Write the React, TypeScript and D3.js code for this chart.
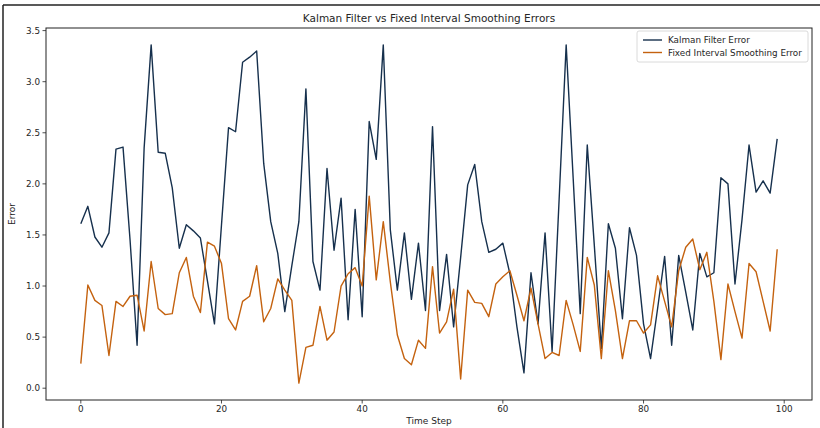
import React from "react";
import * as d3 from "d3";

// Time steps 0..99 and the per-step error of each estimator
const timeSteps: number[] = Array.from({ length: 100 }, (_, i) => i);

const kalmanError: number[] = [
  1.61, 1.78, 1.48, 1.38, 1.52, 2.34, 2.36, 1.45, 0.42, 2.35,
  3.36, 2.31, 2.30, 1.96, 1.37, 1.60, 1.54, 1.47, 1.05, 0.63,
  1.60, 2.55, 2.51, 3.19, 3.24, 3.30, 2.20, 1.63, 1.32, 0.75,
  1.20, 1.63, 2.93, 1.24, 0.96, 2.15, 1.35, 1.86, 0.67, 1.75,
  0.70, 2.61, 2.24, 3.36, 1.55, 0.96, 1.52, 0.87, 1.42, 0.76,
  2.56, 0.76, 1.31, 0.60, 1.28, 1.99, 2.19, 1.63, 1.33, 1.36,
  1.42, 1.12, 0.60, 0.15, 1.13, 0.63, 1.52, 0.36, 1.85, 3.36,
  2.05, 0.73, 2.38, 1.40, 0.39, 1.61, 1.37, 0.68, 1.57, 1.30,
  0.63, 0.29, 0.78, 1.29, 0.42, 1.30, 0.94, 0.57, 1.32, 1.09,
  1.13, 2.06, 2.00, 1.02, 1.65, 2.38, 1.92, 2.03, 1.91, 2.44,
];

const smoothingError: number[] = [
  0.24, 1.01, 0.86, 0.81, 0.32, 0.85, 0.80, 0.90, 0.91, 0.56,
  1.24, 0.78, 0.72, 0.73, 1.13, 1.28, 0.90, 0.74, 1.43, 1.39,
  1.22, 0.68, 0.57, 0.85, 0.90, 1.20, 0.65, 0.78, 1.07, 0.96,
  0.86, 0.05, 0.40, 0.42, 0.80, 0.47, 0.55, 1.00, 1.12, 1.18,
  1.00, 1.88, 1.06, 1.63, 1.04, 0.52, 0.29, 0.23, 0.47, 0.39,
  1.19, 0.54, 0.65, 0.97, 0.09, 0.96, 0.84, 0.83, 0.70, 1.02,
  1.09, 1.15, 0.91, 0.66, 0.98, 0.63, 0.29, 0.35, 0.32, 0.86,
  0.62, 0.36, 1.28, 1.01, 0.29, 1.15, 0.76, 0.29, 0.66, 0.66,
  0.54, 0.62, 1.10, 0.85, 0.60, 1.15, 1.38, 1.46, 1.16, 1.33,
  0.85, 0.28, 1.02, 0.75, 0.49, 1.22, 1.14, 0.85, 0.56, 1.36,
];

const xTicks: number[] = [0, 20, 40, 60, 80, 100];
const yTicks: number[] = [0, 0.5, 1.0, 1.5, 2.0, 2.5, 3.0, 3.5];

const seriesNames: string[] = ["Kalman Filter Error", "Fixed Interval Smoothing Error"];
const seriesColors: string[] = ["#16304d", "#c4620f"];

const W = 820;
const H = 428;
const plot = { left: 46, right: 812, top: 28, bottom: 400 };
const FONT = "'DejaVu Sans', sans-serif";
const TEXT = "#262626";

export default function App() {
  const all = kalmanError.concat(smoothingError);
  const lo = d3.min(all) as number;
  const hi = d3.max(all) as number;
  const padY = (hi - lo) * 0.05;
  const padX = (timeSteps.length - 1) * 0.05;

  const x = d3
    .scaleLinear()
    .domain([-padX, timeSteps.length - 1 + padX])
    .range([plot.left, plot.right]);
  const y = d3
    .scaleLinear()
    .domain([lo - padY, hi + padY])
    .range([plot.bottom, plot.top]);

  const line = d3
    .line<number>()
    .x((_, i) => x(timeSteps[i]))
    .y((d) => y(d));

  const series = [kalmanError, smoothingError];

  const legendX = 637;
  const legendY = 31;

  return (
    <svg
      width={W}
      height={H}
      viewBox={`0 0 ${W} ${H}`}
      style={{ position: "absolute", left: 0, top: 0, background: "#fff" }}
    >
      <rect x={0} y={0} width={W} height={H} fill="#fff" />
      {/* outer frame */}
      <line x1={3} y1={5} x2={W} y2={5} stroke="#222" strokeWidth={1.5} />
      <line x1={3} y1={5} x2={3} y2={H} stroke="#222" strokeWidth={1.5} />

      <text
        x={(plot.left + plot.right) / 2}
        y={22}
        textAnchor="middle"
        fontFamily={FONT}
        fontSize={10.5}
        fill={TEXT}
      >
        Kalman Filter vs Fixed Interval Smoothing Errors
      </text>

      {/* data lines */}
      <defs>
        <clipPath id="plotClip">
          <rect x={plot.left} y={plot.top} width={plot.right - plot.left} height={plot.bottom - plot.top} />
        </clipPath>
      </defs>
      <g clipPath="url(#plotClip)">
        {series.map((s, k) => (
          <path
            key={k}
            d={line(s) as string}
            fill="none"
            stroke={seriesColors[k]}
            strokeWidth={1.4}
            strokeLinejoin="round"
          />
        ))}
      </g>

      {/* axes frame */}
      <rect
        x={plot.left}
        y={plot.top}
        width={plot.right - plot.left}
        height={plot.bottom - plot.top}
        fill="none"
        stroke="#222"
        strokeWidth={1}
      />

      {/* x ticks */}
      {xTicks.map((t) => (
        <g key={`x${t}`}>
          <line x1={x(t)} x2={x(t)} y1={plot.bottom} y2={plot.bottom + 3.5} stroke="#222" strokeWidth={0.8} />
          <text x={x(t)} y={plot.bottom + 12} textAnchor="middle" fontFamily={FONT} fontSize={8.8} fill={TEXT}>
            {t}
          </text>
        </g>
      ))}
      {/* y ticks */}
      {yTicks.map((t) => (
        <g key={`y${t}`}>
          <line x1={plot.left - 3.5} x2={plot.left} y1={y(t)} y2={y(t)} stroke="#222" strokeWidth={0.8} />
          <text
            x={plot.left - 6}
            y={y(t) + 3}
            textAnchor="end"
            fontFamily={FONT}
            fontSize={8.8}
            fill={TEXT}
          >
            {t.toFixed(1)}
          </text>
        </g>
      ))}

      <text x={(plot.left + plot.right) / 2} y={424} textAnchor="middle" fontFamily={FONT} fontSize={9} fill={TEXT}>
        Time Step
      </text>
      <text
        transform={`translate(15,${(plot.top + plot.bottom) / 2}) rotate(-90)`}
        textAnchor="middle"
        fontFamily={FONT}
        fontSize={9}
        fill={TEXT}
      >
        Error
      </text>

      {/* legend */}
      <rect
        x={legendX}
        y={legendY}
        width={171}
        height={31}
        rx={2}
        fill="#fff"
        fillOpacity={0.8}
        stroke="#d0d0d0"
        strokeWidth={0.8}
      />
      {seriesNames.map((name, k) => (
        <g key={name}>
          <line
            x1={legendX + 6}
            x2={legendX + 25}
            y1={legendY + 9 + k * 12.5}
            y2={legendY + 9 + k * 12.5}
            stroke={seriesColors[k]}
            strokeWidth={1.4}
          />
          <text
            x={legendX + 31}
            y={legendY + 12 + k * 12.5}
            fontFamily={FONT}
            fontSize={8.8}
            fill={TEXT}
          >
            {name}
          </text>
        </g>
      ))}
    </svg>
  );
}
